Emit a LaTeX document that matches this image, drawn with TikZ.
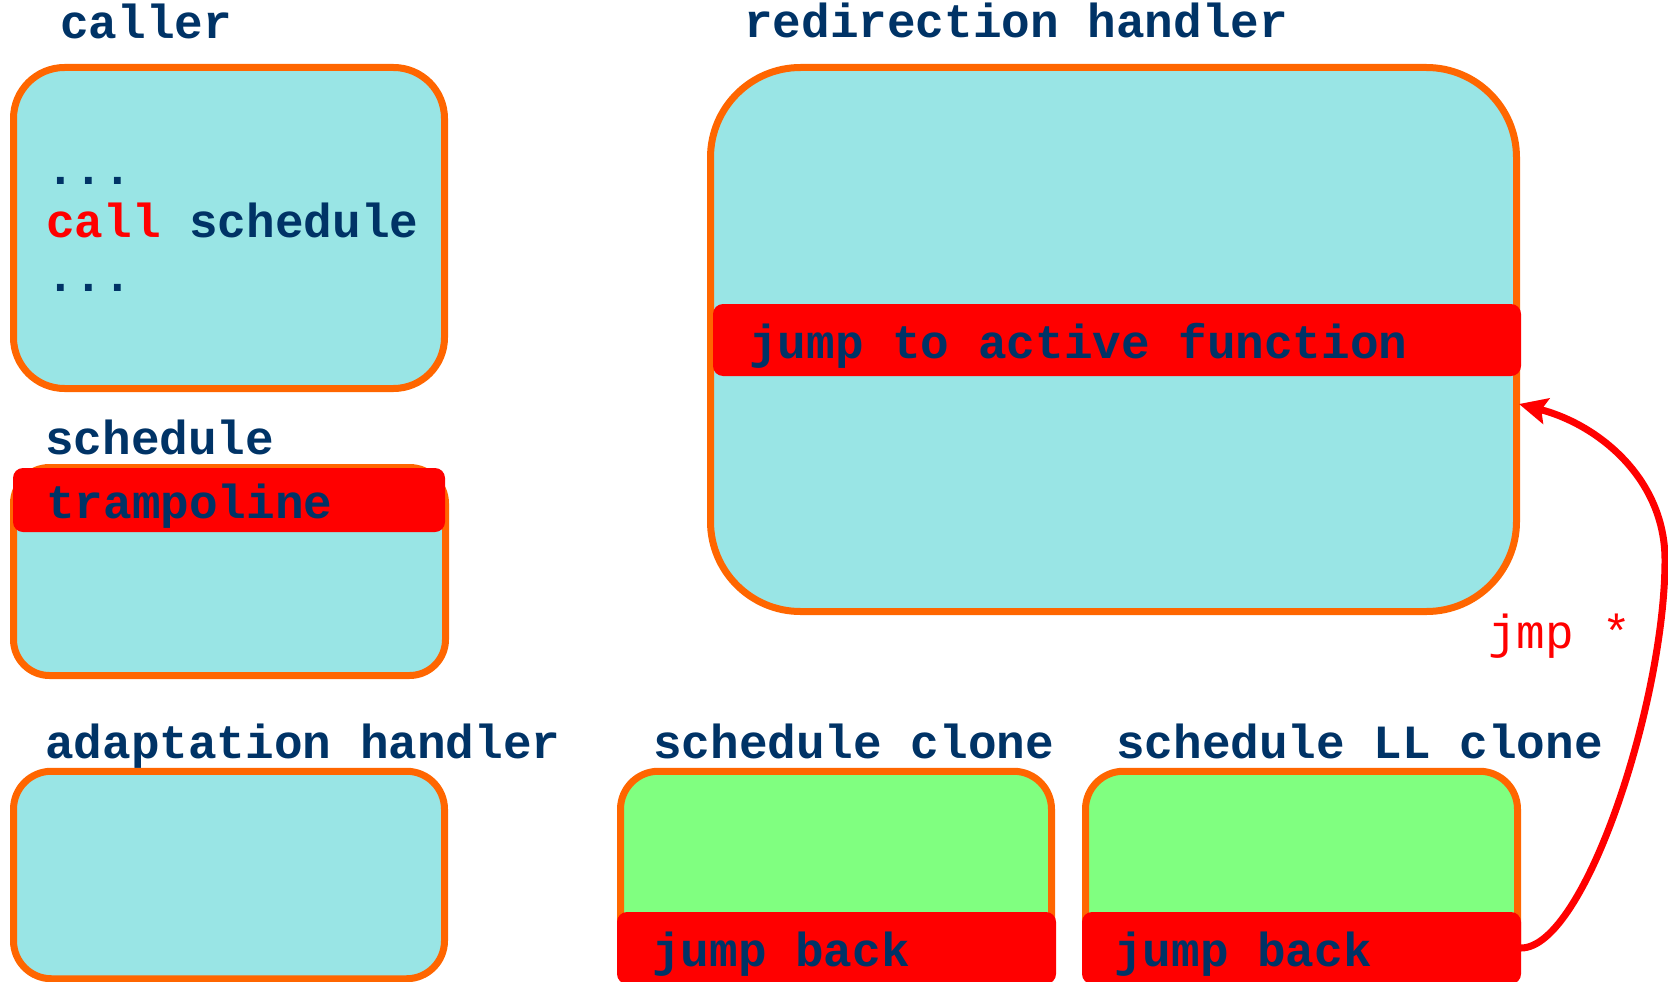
\documentclass[tikz,border=0pt]{standalone}
\usepackage{fontspec}
\setmonofont{Liberation Mono}
\usetikzlibrary{arrows.meta}
\definecolor{navy}{HTML}{003366}
\definecolor{cyanfill}{HTML}{99E5E5}
\definecolor{orangeline}{HTML}{FF6600}
\definecolor{greenfill}{HTML}{80FF80}
\definecolor{barred}{HTML}{FF0000}
\newcommand{\codefont}{\fontsize{47.7pt}{57pt}\selectfont\ttfamily\bfseries}
\newcommand{\jmpfont}{\fontsize{47.7pt}{57pt}\selectfont\ttfamily}

\begin{document}
\begin{tikzpicture}[x=1pt,y=-1pt,
  block/.style={draw=orangeline, line width=7pt, inner sep=0pt, outer sep=0pt},
  bar/.style={fill=barred, rounded corners=10pt, inner sep=0pt, outer sep=0pt},
  code/.style={inner sep=0pt, anchor=base west, font=\codefont, text=navy}]

\clip (0,0) rectangle (1668,982);

% code blocks
\node[block, fill=cyanfill, rounded corners=51pt, minimum width=431pt, minimum height=321pt] (caller) at (229,228) {};
\node[block, fill=cyanfill, rounded corners=36pt, minimum width=432pt, minimum height=208pt] (sched) at (229.5,571.5) {};
\node[block, fill=cyanfill, rounded corners=38pt, minimum width=431pt, minimum height=207.5pt] (adapt) at (229,875) {};
\node[block, fill=cyanfill, rounded corners=90pt, minimum width=806pt, minimum height=544pt] (redir) at (1113.5,339.5) {};
\node[block, fill=greenfill, rounded corners=38pt, minimum width=431pt, minimum height=213.5pt] (clone) at (836,878) {};
\node[block, fill=greenfill, rounded corners=38pt, minimum width=432pt, minimum height=213.5pt] (llclone) at (1301.5,878) {};

% highlighted instructions
\node[bar, minimum width=432pt, minimum height=64pt] (tramp) at (229,500) {};
\node[bar, minimum width=808pt, minimum height=72pt] (jumpto) at (1117,340) {};
\node[bar, minimum width=439pt, minimum height=72pt] (back1) at (836.5,948) {};
\node[bar, minimum width=439pt, minimum height=72pt] (back2) at (1301.5,948) {};

% titles
\node[code] (tcaller) at (60,39) {caller};
\node[code] (tsched) at (45,454) {schedule};
\node[code] (tadapt) at (45,758) {adaptation handler};
\node[code] (tredir) at (744,38) {redirection handler};
\node[code] (tclone) at (653,758) {schedule clone};
\node[code] (tllclone) at (1116,758) {schedule LL clone};

% block contents
\node[code] (dots1) at (46,184) {...};
\node[code] (call) at (46,237) {{\color{barred}call} schedule};
\node[code] (dots2) at (46,291) {...};
\node[code] (ttramp) at (46,518) {trampoline};
\node[code] (tjumpto) at (749,358) {jump to active function};
\node[code] (tback1) at (652,966) {jump back};
\node[code] (tback2) at (1114,966) {jump back};

% indirect jump back into the redirection handler
\coordinate (jin) at (1519,404);
\draw[barred, line width=7pt, -{Stealth[length=28pt,width=26pt,inset=5pt]}]
  (back2.east) .. controls (1585,948) and (1665,700) .. (1665,560)
  .. controls (1665,480) and (1600,425) .. (jin);
\node[inner sep=0pt, anchor=base west, font=\jmpfont, text=barred] (tjmp) at (1488,648) {jmp *};

\end{tikzpicture}
\end{document}
